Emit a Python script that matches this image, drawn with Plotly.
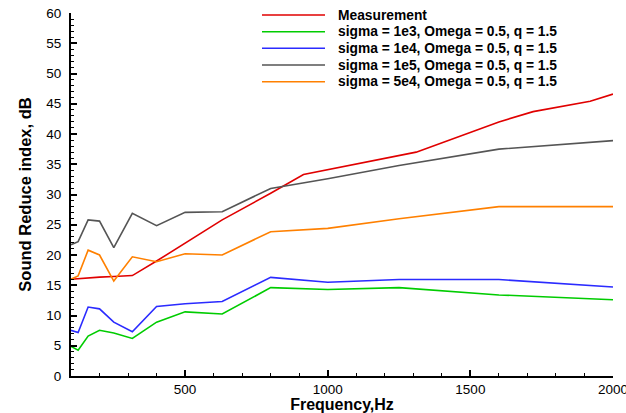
import plotly.graph_objects as go

# ---- data ----
freq_sim = [100, 125, 160, 200, 250, 315, 400, 500, 630, 800, 1000, 1250, 1600, 2000]
sigma_1e3 = [4.9, 4.25, 6.6, 7.55, 7.1, 6.2, 8.9, 10.6, 10.25, 14.6, 14.3, 14.6, 13.4, 12.6]
sigma_1e4 = [7.55, 7.2, 11.4, 11.1, 8.9, 7.3, 11.5, 11.95, 12.3, 16.3, 15.5, 15.95, 15.95, 14.7]
sigma_1e5 = [21.7, 22.2, 25.8, 25.6, 21.2, 26.9, 24.85, 27.05, 27.15, 31.0, 32.6, 34.8, 37.5, 38.9]
sigma_5e4 = [16.0, 16.55, 20.8, 20.0, 15.7, 19.7, 18.9, 20.2, 20.0, 23.85, 24.4, 26.0, 28.0, 28.0]

freq_meas = [100, 125, 160, 200, 250, 315, 400, 500, 630, 800, 915, 1310, 1600, 1720, 1920, 2000]
measurement = [16.0, 16.1, 16.2, 16.35, 16.45, 16.6, 19.0, 21.9, 25.8, 30.2, 33.3, 37.0, 42.0, 43.7, 45.4, 46.6]

series_names = ["Measurement",
                "sigma = 1e3, Omega = 0.5, q = 1.5",
                "sigma = 1e4, Omega = 0.5, q = 1.5",
                "sigma = 1e5, Omega = 0.5, q = 1.5",
                "sigma = 5e4, Omega = 0.5, q = 1.5"]
series_colors = ["#e00000", "#00cc00", "#2b2bff", "#555555", "#ff8000"]

xs = [freq_meas, freq_sim, freq_sim, freq_sim, freq_sim]
ys = [measurement, sigma_1e3, sigma_1e4, sigma_1e5, sigma_5e4]

FONT = "Liberation Sans, Arial, sans-serif"

fig = go.Figure()
for x, y, n, c in zip(xs, ys, series_names, series_colors):
    fig.add_trace(go.Scatter(x=x, y=y, mode="lines", name=n,
                             line=dict(color=c, width=1.6), showlegend=False))

# manual legend (to match compact row spacing)
W, H = 626, 413
ml, mr, mt, mb = 71, 13, 13, 37
pw, ph = W - ml - mr, H - mt - mb
row_px = [15, 31.7, 48.3, 65, 81.7]
for n, c, py in zip(series_names, series_colors, row_px):
    yp = 1 - (py - mt) / ph
    fig.add_shape(type="line", xref="paper", yref="paper",
                  x0=(262 - ml) / pw, x1=(325 - ml) / pw, y0=yp, y1=yp,
                  line=dict(color=c, width=1.6))
    fig.add_annotation(xref="paper", yref="paper", x=(336 - ml) / pw, y=yp,
                       xanchor="left", yanchor="middle", text=n, showarrow=False,
                       font=dict(family=FONT, size=13.8, color="black", weight="bold"))

axis_common = dict(showline=True, linecolor="black", linewidth=2, showgrid=False,
                   zeroline=False, ticks="inside", tickcolor="black", tickwidth=1.5,
                   ticklen=6, automargin=False, ticklabeloverflow="allow",
                   tickfont=dict(family=FONT, size=13.5, color="black"))

fig.update_xaxes(range=[100, 2000], tick0=0, dtick=500,
                 minor=dict(ticks="inside", dtick=100, tick0=0, ticklen=3,
                            tickcolor="black", tickwidth=1),
                 ticklabelstandoff=0,
                 title=dict(text="Frequency,Hz", standoff=1,
                            font=dict(family=FONT, size=16, color="black", weight="bold")),
                 **axis_common)
fig.update_yaxes(range=[0, 60], tick0=0, dtick=5,
                 minor=dict(ticks="inside", dtick=1, tick0=0, ticklen=3,
                            tickcolor="black", tickwidth=1),
                 ticklabelstandoff=5,
                 title=dict(text="Sound Reduce index, dB", standoff=10,
                            font=dict(family=FONT, size=16.5, color="black", weight="bold")),
                 **axis_common)

fig.update_layout(template="none", width=W, height=H,
                  margin=dict(l=ml, r=mr, t=mt, b=mb, autoexpand=False),
                  plot_bgcolor="white", paper_bgcolor="white",
                  font=dict(family=FONT, color="black"))

fig.write_html("out.html")
